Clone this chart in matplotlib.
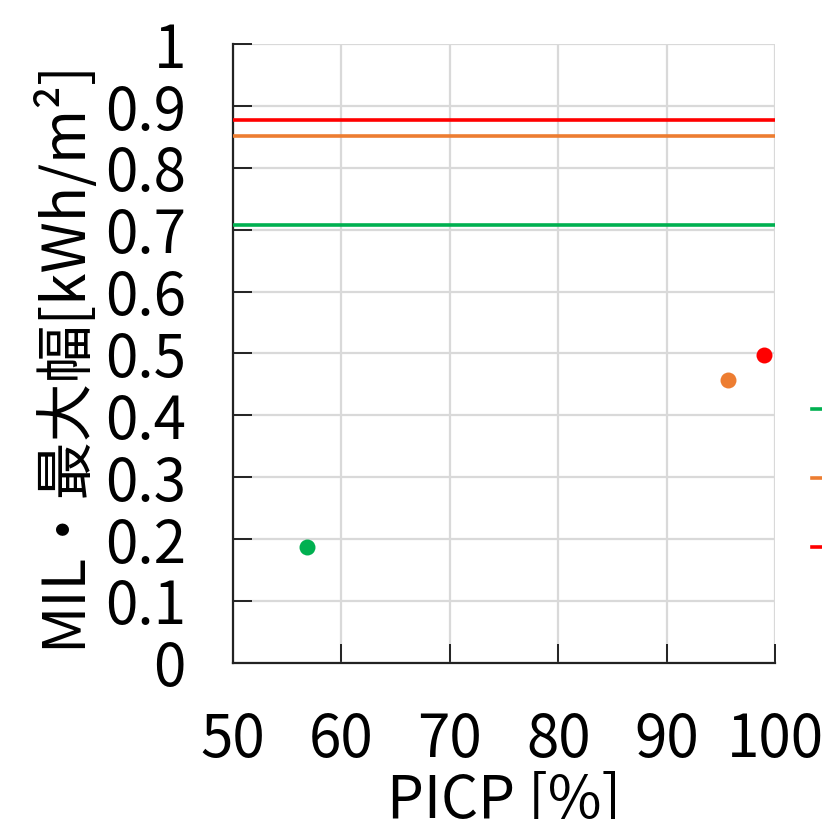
import numpy as np
import matplotlib
matplotlib.use("Agg")
import matplotlib.pyplot as plt
from matplotlib.lines import Line2D

plt.rcParams['font.family'] = ['Noto Sans CJK JP', 'DejaVu Sans']

# data
series_colors = ['#00B050', '#ED7D31', '#FF0000']
picp = [56.8, 95.7, 99.0]          # PICP [%]
mil = [0.187, 0.457, 0.498]        # MIL
max_width = [0.707, 0.852, 0.878]  # horizontal lines
x_ticks = [50, 60, 70, 80, 90, 100]
y_ticks = [0, 0.1, 0.2, 0.3, 0.4, 0.5, 0.6, 0.7, 0.8, 0.9, 1.0]
y_ticklabels = ['0', '0.1', '0.2', '0.3', '0.4', '0.5', '0.6', '0.7', '0.8', '0.9', '1']

fig = plt.figure(figsize=(8.22, 8.19), dpi=100)
ax = fig.add_axes([0.2835, 0.1908, 0.6594, 0.7552])

ax.set_xlim(50, 100)
ax.set_ylim(0, 1)
ax.set_xticks(x_ticks)
ax.set_yticks(y_ticks)
ax.set_yticklabels(y_ticklabels)

ax.grid(True, color='#d9d9d9', linewidth=1.6, zorder=0)
ax.set_axisbelow(True)

for c, w in zip(series_colors, max_width):
    ax.axhline(w, color=c, linewidth=2.6, zorder=3)
for c, xp, yp in zip(series_colors, picp, mil):
    ax.plot(xp, yp, 'o', color=c, markersize=11.5, markeredgewidth=0, zorder=4)

for s in ['top', 'right']:
    ax.spines[s].set_visible(False)
for s in ['left', 'bottom']:
    ax.spines[s].set_linewidth(1.6)
    ax.spines[s].set_color('#222222')

ax.tick_params(direction='in', length=13.5, width=1.4, color='#222222',
               labelsize=42, pad=34)

ax.set_xlabel('PICP [%]', fontsize=42, labelpad=0)
ax.set_ylabel('MIL・最大幅[kWh/m²]', fontsize=42, labelpad=8)

handles = [Line2D([], [], color=c, linewidth=2.6) for c in series_colors]
fig.legend(handles, ['', '', ''], loc='center left',
           bbox_to_anchor=(812 / 822, 1 - 481 / 819),
           bbox_transform=fig.transFigure, frameon=False, fontsize=30,
           borderpad=0, borderaxespad=0, handlelength=2, handletextpad=0.5,
           labelspacing=0.68)

fig.savefig('out.png', dpi=100)
